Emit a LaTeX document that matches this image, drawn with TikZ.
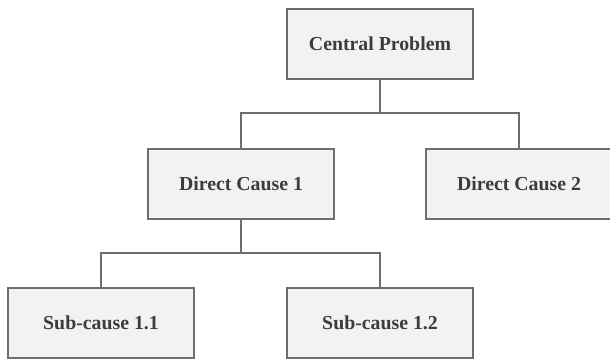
\documentclass[tikz,border=0pt]{standalone}
\usepackage{fontspec}
\setmainfont{Liberation Serif}
\definecolor{boxfill}{HTML}{F2F2F2}
\definecolor{boxline}{HTML}{6E6E6E}
\definecolor{boxtext}{HTML}{3C3C3C}
\begin{document}
\begin{tikzpicture}[x=1pt,y=1pt,
    causebox/.style={draw=boxline,line width=1.4pt,fill=boxfill,text=boxtext,
      minimum width=186pt,minimum height=70pt,inner sep=0pt,
      font=\bfseries\fontsize{19.8}{22}\selectfont},
    link/.style={draw=boxline,line width=1.2pt}]
      \useasboundingbox (0,0) rectangle (610,360);
      \node [causebox] (cp) at (380,316) {Central Problem};
      \node [causebox] (dc1) at (241,176) {Direct Cause 1};
      \node [causebox] (dc2) at (519,176) {Direct Cause 2};
      \node [causebox] (sc11) at (101,37) {Sub-cause 1.1};
      \node [causebox] (sc12) at (380,37) {Sub-cause 1.2};
      \coordinate (j1) at (380,247);
      \coordinate (j2) at (241,107);
      \draw [link] (cp.south) -- (j1) -| (dc1.north);
      \draw [link] (j1) -| (dc2.north);
      \draw [link] (dc1.south) -- (j2) -| (sc11.north);
      \draw [link] (j2) -| (sc12.north);
    \end{tikzpicture}
\end{document}
